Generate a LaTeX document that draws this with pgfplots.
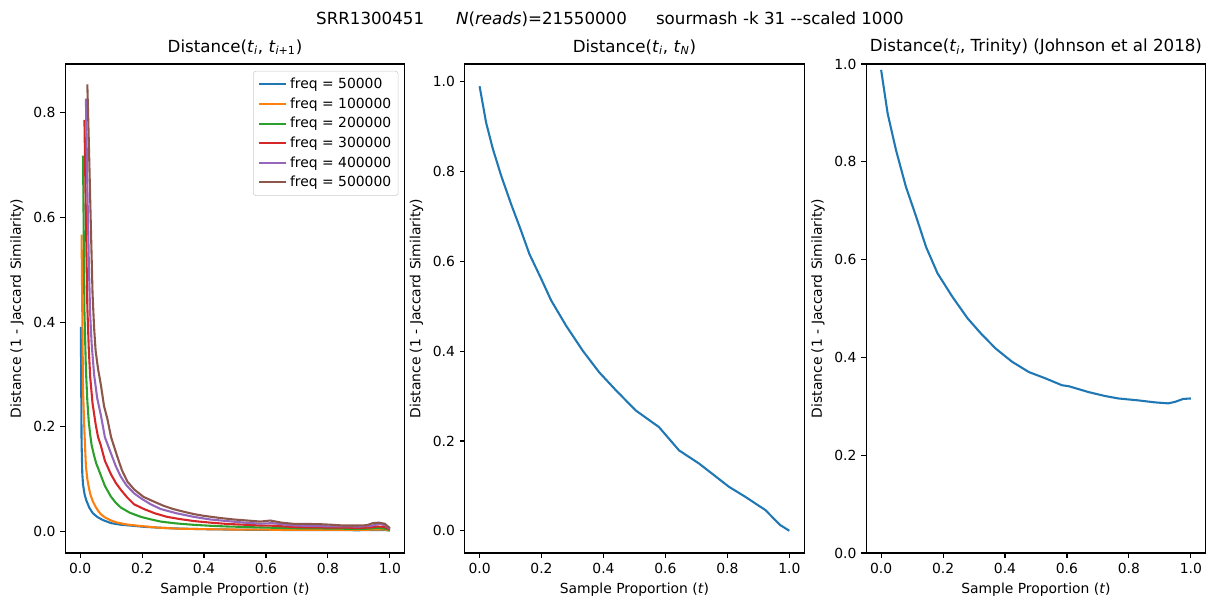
\documentclass[border=0pt]{standalone}
\usepackage{fontspec}
\setmainfont{DejaVu Sans}
\usepackage{pgfplots}
\pgfplotsset{compat=1.18}
\definecolor{c0}{HTML}{1F77B4}
\definecolor{c1}{HTML}{FF7F0E}
\definecolor{c2}{HTML}{2CA02C}
\definecolor{c3}{HTML}{D62728}
\definecolor{c4}{HTML}{9467BD}
\definecolor{c5}{HTML}{8C564B}
\pgfplotsset{
  mpl/.style={
    scale only axis, width=244.4pt, height=352.1pt,
    axis line style={line width=0.8pt},
    tick pos=left, tick align=outside, major tick length=3.5pt,
    every tick/.style={black, line width=0.8pt},
    ticklabel style={font=\fontsize{10}{12}\selectfont},
    label style={font=\fontsize{10}{12}\selectfont},
    title style={font=\fontsize{12}{14.4}\selectfont, at={(0.5,1)}, anchor=south, yshift=-3pt},
    xmin=-0.048, xmax=1.048,
    xtick={0,0.2,0.4,0.6,0.8,1}, xticklabels={0.0,0.2,0.4,0.6,0.8,1.0},
    xlabel={Sample Proportion (\textit{t})},
    ylabel={Distance (1 - Jaccard Similarity)},
    every axis plot/.append style={line width=1.5pt, mark=none},
    anchor=south west,
  }
}
\begin{document}
\begin{tikzpicture}
\path[use as bounding box] (0,0) rectangle (871.2pt,433.44pt);
\node[font=\fontsize{12}{14.4}\selectfont] at (439.2pt,419.5pt) {SRR1300451\hspace{23pt}\textit{N}(\textit{reads})=21550000\hspace{21pt}sourmash -k 31 -{}-scaled 1000};
% Left
\begin{axis}[mpl, at={(47pt,35.28pt)},
  ymin=-0.041, ymax=0.893,
  ytick={0,0.2,0.4,0.6,0.8}, yticklabels={0.0,0.2,0.4,0.6,0.8},
  title={Distance(\textit{t}\textsubscript{\textit{i}}, \textit{t}\textsubscript{\textit{i}+1})},
  legend cell align=left,
  legend style={at={(1,1)}, anchor=north east, xshift=-4.5pt, yshift=-5pt,
    draw=black!20, rounded corners=2pt, font=\fontsize{10}{12}\selectfont,
    row sep=1pt, inner sep=3pt},
  legend image code/.code={\draw[line width=1.5pt] (0pt,0pt) -- (20pt,0pt);},
]
\addplot[c0] coordinates {(0.0023,0.391) (0.0046,0.17) (0.007,0.11) (0.0093,0.09) (0.014,0.072) (0.0195,0.060) (0.03,0.045) (0.041,0.035) (0.055,0.028) (0.073,0.022) (0.10,0.016) (0.131,0.013) (0.16,0.0115) (0.206,0.0090) (0.25,0.0075) (0.3,0.0060) (0.35,0.0052) (0.4,0.0045) (0.5,0.0036) (0.6,0.0032) (0.7,0.0028) (0.8,0.0026) (0.9,0.0025) (0.95,0.0027) (0.98,0.0030) (1.0,0.002)};
\addlegendentry{freq = 50000}
\addplot[c1] coordinates {(0.0046,0.567) (0.0093,0.27) (0.0139,0.19) (0.0186,0.125) (0.0232,0.10) (0.0278,0.085) (0.0325,0.072) (0.04,0.059) (0.05,0.047) (0.06,0.038) (0.067,0.033) (0.08,0.027) (0.1,0.021) (0.12,0.017) (0.15,0.0135) (0.196,0.0105) (0.25,0.0075) (0.313,0.0055) (0.4,0.0045) (0.5,0.0038) (0.6,0.0035) (0.7,0.0032) (0.8,0.0032) (0.9,0.0032) (0.95,0.0036) (0.98,0.004) (1.0,0.002)};
\addlegendentry{freq = 100000}
\addplot[c2] coordinates {(0.0093,0.718) (0.0139,0.42) (0.0186,0.31) (0.0232,0.25) (0.0278,0.21) (0.0325,0.185) (0.037,0.165) (0.045,0.145) (0.052,0.13) (0.06,0.118) (0.067,0.107) (0.08,0.087) (0.099,0.067) (0.115,0.055) (0.131,0.046) (0.16,0.036) (0.196,0.028) (0.23,0.023) (0.26,0.019) (0.31,0.0155) (0.367,0.0128) (0.42,0.011) (0.474,0.0096) (0.53,0.0088) (0.582,0.0077) (0.64,0.007) (0.689,0.0064) (0.75,0.006) (0.8,0.0058) (0.85,0.0054) (0.9,0.005) (0.93,0.0055) (0.96,0.007) (0.98,0.006) (1.0,0.003)};
\addlegendentry{freq = 200000}
\addplot[c3] coordinates {(0.0139,0.786) (0.0186,0.60) (0.0232,0.43) (0.0278,0.35) (0.0325,0.295) (0.04,0.245) (0.05,0.205) (0.058,0.18) (0.0665,0.165) (0.08,0.135) (0.099,0.110) (0.115,0.093) (0.131,0.080) (0.152,0.065) (0.174,0.052) (0.206,0.043) (0.24,0.035) (0.281,0.028) (0.32,0.024) (0.367,0.020) (0.42,0.017) (0.474,0.0145) (0.53,0.013) (0.582,0.0115) (0.63,0.011) (0.689,0.0085) (0.75,0.008) (0.8,0.0077) (0.85,0.0075) (0.9,0.007) (0.93,0.0075) (0.96,0.0096) (0.98,0.009) (1.0,0.0045)};
\addlegendentry{freq = 300000}
\addplot[c4] coordinates {(0.0186,0.827) (0.0232,0.66) (0.0278,0.52) (0.032,0.42) (0.037,0.36) (0.045,0.30) (0.055,0.255) (0.067,0.222) (0.08,0.18) (0.099,0.150) (0.115,0.125) (0.131,0.105) (0.15,0.088) (0.174,0.073) (0.2,0.062) (0.228,0.052) (0.26,0.043) (0.31,0.035) (0.367,0.028) (0.42,0.023) (0.474,0.020) (0.53,0.017) (0.582,0.015) (0.62,0.016) (0.689,0.0115) (0.74,0.0108) (0.796,0.010) (0.85,0.0098) (0.903,0.0096) (0.94,0.011) (0.968,0.0147) (0.985,0.012) (1.0,0.005)};
\addlegendentry{freq = 400000}
\addplot[c5] coordinates {(0.0232,0.854) (0.0278,0.75) (0.032,0.646) (0.036,0.55) (0.040,0.455) (0.045,0.39) (0.05,0.345) (0.058,0.31) (0.067,0.28) (0.077,0.24) (0.088,0.215) (0.1,0.18) (0.12,0.143) (0.135,0.117) (0.153,0.095) (0.175,0.080) (0.205,0.066) (0.235,0.058) (0.27,0.049) (0.3,0.043) (0.34,0.037) (0.37,0.033) (0.399,0.030) (0.45,0.026) (0.496,0.023) (0.54,0.021) (0.582,0.019) (0.614,0.021) (0.65,0.017) (0.689,0.0147) (0.73,0.0145) (0.775,0.014) (0.81,0.013) (0.85,0.0115) (0.89,0.0115) (0.925,0.012) (0.945,0.016) (0.965,0.017) (0.984,0.0147) (1.0,0.0064)};
\addlegendentry{freq = 500000}
\end{axis}
% Middle
\begin{axis}[mpl, at={(334.6pt,35.28pt)},
  ymin=-0.0495, ymax=1.0395,
  ytick={0,0.2,0.4,0.6,0.8,1}, yticklabels={0.0,0.2,0.4,0.6,0.8,1.0},
  title={Distance(\textit{t}\textsubscript{\textit{i}}, \textit{t}\textsubscript{\textit{N}})},
]
\addplot[c0] coordinates {(0,0.990) (0.021,0.909) (0.043,0.850) (0.070,0.790) (0.102,0.727) (0.134,0.668) (0.161,0.616) (0.199,0.561) (0.231,0.513) (0.279,0.457) (0.333,0.401) (0.386,0.353) (0.440,0.313) (0.504,0.268) (0.579,0.231) (0.644,0.179) (0.708,0.150) (0.751,0.127) (0.805,0.098) (0.858,0.0756) (0.923,0.046) (0.950,0.027) (0.971,0.0126) (1.0,0.0)};
\end{axis}
% Right
\begin{axis}[mpl, at={(623.7pt,35.28pt)},
  ymin=0, ymax=1,
  ytick={0,0.2,0.4,0.6,0.8,1}, yticklabels={0.0,0.2,0.4,0.6,0.8,1.0},
  title={Distance(\textit{t}\textsubscript{\textit{i}}, Trinity) (Johnson et al 2018)},
]
\addplot[c0] coordinates {(0,0.988) (0.021,0.899) (0.048,0.824) (0.080,0.749) (0.113,0.688) (0.145,0.626) (0.182,0.572) (0.230,0.524) (0.279,0.480) (0.322,0.449) (0.370,0.418) (0.423,0.391) (0.477,0.370) (0.531,0.357) (0.584,0.343) (0.606,0.341) (0.670,0.329) (0.723,0.321) (0.766,0.316) (0.831,0.312) (0.884,0.308) (0.927,0.306) (0.949,0.309) (0.975,0.315) (1.0,0.316)};
\end{axis}
\end{tikzpicture}
\end{document}
